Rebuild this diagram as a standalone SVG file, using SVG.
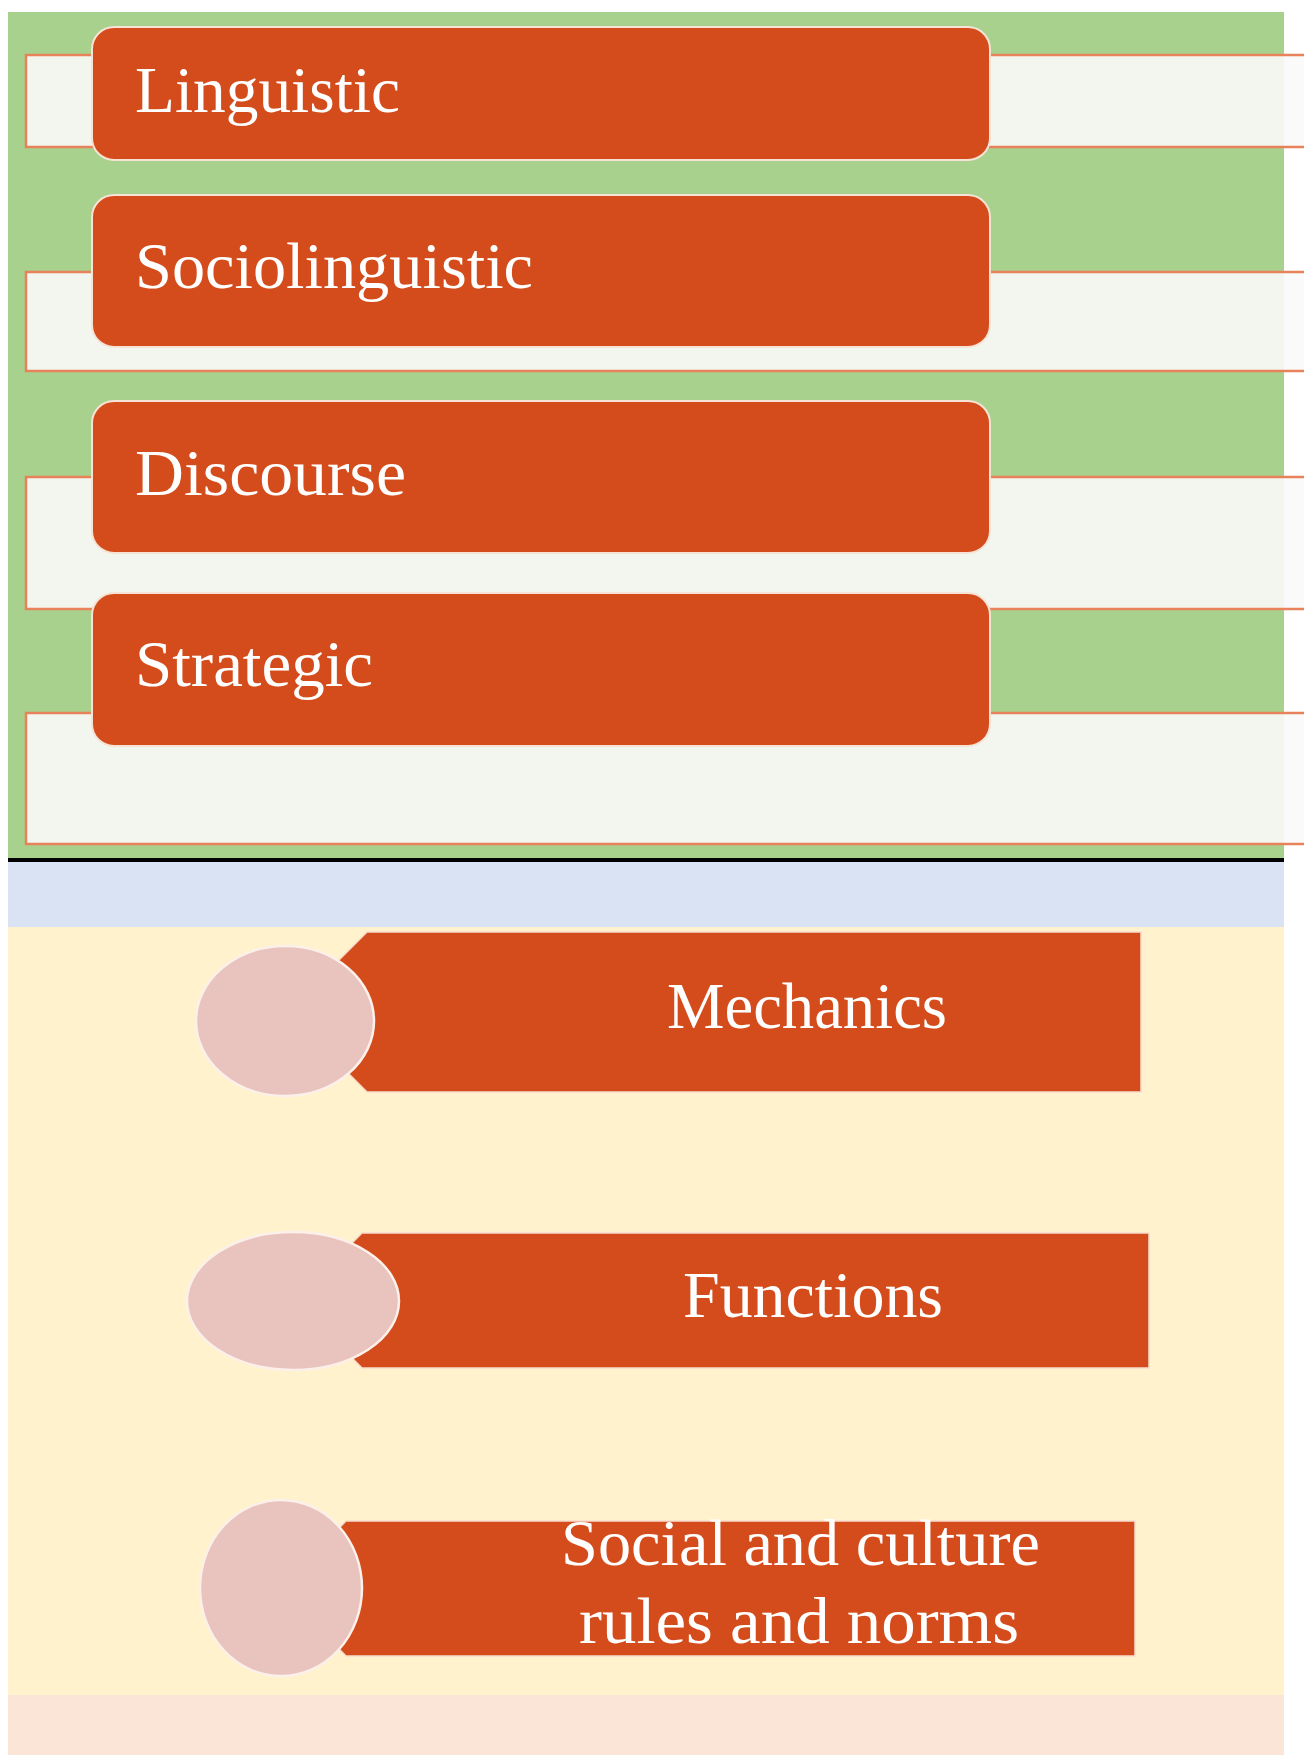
<svg xmlns="http://www.w3.org/2000/svg" width="1304" height="1755" viewBox="0 0 1304 1755">
  <style>
    .strip { fill: #f9f9f9; fill-opacity: 0.9; stroke: #e8825a; stroke-width: 2.5; }
    .box { fill: #d44c1b; stroke: #f6e3d6; stroke-width: 2; }
    .arrow { fill: #d44c1b; stroke: #f7dccd; stroke-width: 1.5; }
    .oval { fill: #e9c3be; stroke: #fbf0ea; stroke-width: 2.5; }
    .lbl { font-family: "Liberation Serif", "Times New Roman", serif; font-size: 66px; fill: #ffffff; }
  </style>
  <rect x="0" y="0" width="1304" height="1755" fill="#ffffff"/>
  <g id="backgrounds">
    <rect x="8" y="12" width="1276" height="846" fill="#a9d18e"/>
    <rect x="8" y="858" width="1276" height="4" fill="#000000"/>
    <rect x="8" y="862" width="1276" height="65" fill="#dae3f3"/>
    <rect x="8" y="927" width="1276" height="768" fill="#fff2cc"/>
    <rect x="8" y="1695" width="1276" height="60" fill="#fbe5d6"/>
  </g>
  <g id="connectors"></g>
  <g id="node-linguistic">
    <rect class="strip" x="26" y="55" width="1290" height="92"/>
    <rect class="box" x="92" y="27" width="898" height="133" rx="22"/>
    <text class="lbl" x="135" y="112" textLength="265" lengthAdjust="spacingAndGlyphs">Linguistic</text>
  </g>
  <g id="node-sociolinguistic">
    <rect class="strip" x="26" y="272" width="1290" height="99"/>
    <rect class="box" x="92" y="195" width="898" height="152" rx="22"/>
    <text class="lbl" x="135" y="288" textLength="398" lengthAdjust="spacingAndGlyphs">Sociolinguistic</text>
  </g>
  <g id="node-discourse">
    <rect class="strip" x="26" y="477" width="1290" height="132"/>
    <rect class="box" x="92" y="401" width="898" height="152" rx="22"/>
    <text class="lbl" x="135" y="495" textLength="271" lengthAdjust="spacingAndGlyphs">Discourse</text>
  </g>
  <g id="node-strategic">
    <rect class="strip" x="26" y="713" width="1290" height="131"/>
    <rect class="box" x="92" y="593" width="898" height="153" rx="22"/>
    <text class="lbl" x="135" y="686" textLength="238" lengthAdjust="spacingAndGlyphs">Strategic</text>
  </g>
  <g id="node-mechanics">
    <polygon class="arrow" points="367,932 1141,932 1141,1092 367,1092 287,1012"/>
    <ellipse class="oval" cx="285" cy="1021" rx="89" ry="75"/>
    <text class="lbl" x="667" y="1028" textLength="280" lengthAdjust="spacingAndGlyphs">Mechanics</text>
  </g>
  <g id="node-functions">
    <polygon class="arrow" points="362,1233 1149,1233 1149,1368 362,1368 295,1300"/>
    <ellipse class="oval" cx="293" cy="1301" rx="106" ry="69"/>
    <text class="lbl" x="683" y="1317" textLength="260" lengthAdjust="spacingAndGlyphs">Functions</text>
  </g>
  <g id="node-social">
    <polygon class="arrow" points="346,1521 1135,1521 1135,1656 346,1656 279,1588"/>
    <ellipse class="oval" cx="281" cy="1588" rx="81" ry="88"/>
    <text class="lbl" x="561" y="1565" textLength="479" lengthAdjust="spacingAndGlyphs">Social and culture</text>
    <text class="lbl" x="579" y="1643" textLength="440" lengthAdjust="spacingAndGlyphs">rules and norms</text>
  </g>
</svg>
